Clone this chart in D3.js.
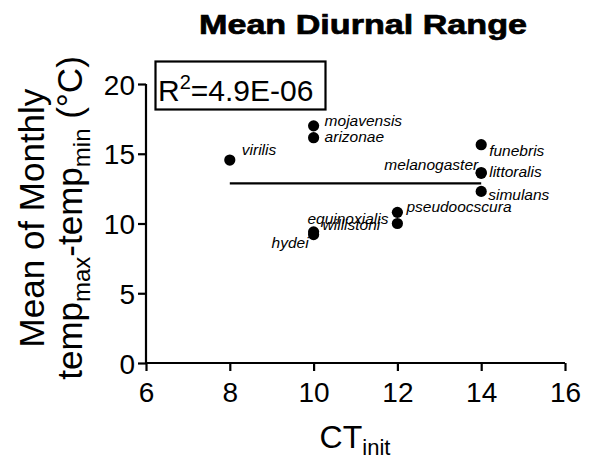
<!DOCTYPE html>
<html>
<head>
<meta charset="utf-8">
<script src="https://cdn.jsdelivr.net/npm/d3@7"></script>
<style>
  body { margin: 0; background: #fff; }
  svg { font-family: "Liberation Sans", Arial, sans-serif; }
</style>
</head>
<body>
<div id="chart"></div>
<script>
// species data
const species = ["virilis", "mojavensis", "arizonae", "hydei", "willistoni",
  "equinoxialis", "pseudoocscura", "funebris", "melanogaster", "littoralis", "simulans"]
const ctInit = [8, 10, 10, 10, 10, 12, 12, 14, 14, 14, 14]
const diurnal = [14.55, 17.0, 16.15, 9.2, 9.4, 10.0, 10.8, 15.65, 13.6, 13.65, 12.3]
// label offsets relative to point [dx, dy, anchor]
const labelPos = [
  [12, -5, "start"], [11, 0, "start"], [11, 4, "start"], [-5, 13, "end"],
  [9, -2, "start"], [-9, 0, "end"], [9, 0, "start"], [8, 11, "start"],
  [-3, -3, "end"], [8, 4, "start"], [7, 9, "start"]
]
const xTicks = [6, 8, 10, 12, 14, 16]
const yTicks = [0, 5, 10, 15, 20]
const fitY = 12.87
const fitRange = [8, 14]

const width = 592, height = 460
const margin = {top: 84, right: 27, bottom: 97, left: 146}

const svg = d3.select('#chart').append('svg')
  .attr('width', width).attr('height', height)

const x = d3.scaleLinear().domain([6, 16]).range([margin.left, width - margin.right])
const y = d3.scaleLinear().domain([0, 20]).range([height - margin.bottom, margin.top])

const xAxis = svg.append('g')
  .attr('transform', `translate(0,${y(0)})`)
  .call(d3.axisBottom(x).tickValues(xTicks).tickSize(8).tickPadding(11).tickFormat(d3.format('d')))
const yAxis = svg.append('g')
  .attr('transform', `translate(${x(6)},0)`)
  .call(d3.axisLeft(y).tickValues(yTicks).tickSize(8).tickPadding(3).tickFormat(d3.format('d')))

for (const ax of [xAxis, yAxis]) {
  ax.select('.domain').attr('stroke-width', 2.2)
  ax.selectAll('.tick line').attr('stroke-width', 2.2)
  ax.selectAll('.tick text').attr('font-size', 28).attr('fill', '#000')
    .attr('font-family', '"Liberation Sans", Arial, sans-serif')
}
xAxis.select('.domain').attr('d', `M${x(6)},0H${x(16)}`)
yAxis.select('.domain').attr('d', `M0,${y(0)}V${y(20)}`)
yAxis.selectAll('.tick text').attr('dy', '0.36em')

// regression line
svg.append('line')
  .attr('x1', x(fitRange[0])).attr('x2', x(fitRange[1]))
  .attr('y1', y(fitY)).attr('y2', y(fitY))
  .attr('stroke', '#000').attr('stroke-width', 2.2)

// points
svg.selectAll('circle.pt')
  .data(species)
  .enter().append('circle')
  .attr('class', 'pt')
  .attr('cx', (d, i) => x(ctInit[i]))
  .attr('cy', (d, i) => y(diurnal[i]))
  .attr('r', 5.6)
  .attr('fill', '#000')

svg.selectAll('text.lab')
  .data(species)
  .enter().append('text')
  .attr('class', 'lab')
  .attr('x', (d, i) => x(ctInit[i]) + labelPos[i][0])
  .attr('y', (d, i) => y(diurnal[i]) + labelPos[i][1])
  .attr('text-anchor', (d, i) => labelPos[i][2])
  .attr('font-size', 15.5)
  .attr('font-style', 'italic')
  .text(d => d)

// title (the original is drawn wide and heavy)
svg.append('text')
  .attr('x', 363).attr('y', 34)
  .attr('text-anchor', 'middle')
  .attr('font-size', 28).attr('font-weight', 'bold')
  .attr('stroke', '#000').attr('stroke-width', 0.7)
  .attr('textLength', 328).attr('lengthAdjust', 'spacingAndGlyphs')
  .text('Mean Diurnal Range')

// R squared box
svg.append('rect')
  .attr('x', 155.5).attr('y', 61.5).attr('width', 170).attr('height', 48)
  .attr('fill', 'none').attr('stroke', '#000').attr('stroke-width', 2.2)
const r2 = svg.append('text')
  .attr('x', 158).attr('y', 101)
  .attr('font-size', 30)
r2.append('tspan').text('R')
r2.append('tspan').attr('font-size', 20).attr('dy', -12).text('2')
r2.append('tspan').attr('dy', 12).text('=4.9E-06')

// x label
const xl = svg.append('text')
  .attr('x', 355).attr('y', 448)
  .attr('text-anchor', 'middle')
  .attr('font-size', 32)
xl.append('tspan').text('CT')
xl.append('tspan').attr('font-size', 22).attr('dy', 7).text('init')

// y label, two lines
const yl = svg.append('g').attr('transform', 'translate(0,218) rotate(-90)')
yl.append('text')
  .attr('x', 0).attr('y', 44)
  .attr('text-anchor', 'middle')
  .attr('font-size', 35)
  .text('Mean of Monthly')
const yl2 = yl.append('text')
  .attr('x', 0).attr('y', 82)
  .attr('text-anchor', 'middle')
  .attr('font-size', 35)
yl2.append('tspan').text('temp')
yl2.append('tspan').attr('font-size', 24).attr('dy', 8).text('max')
yl2.append('tspan').attr('dy', -8).text('-temp')
yl2.append('tspan').attr('font-size', 24).attr('dy', 8).text('min')
yl2.append('tspan').attr('dy', -8).text(' (°C)')
</script>
</body>
</html>
